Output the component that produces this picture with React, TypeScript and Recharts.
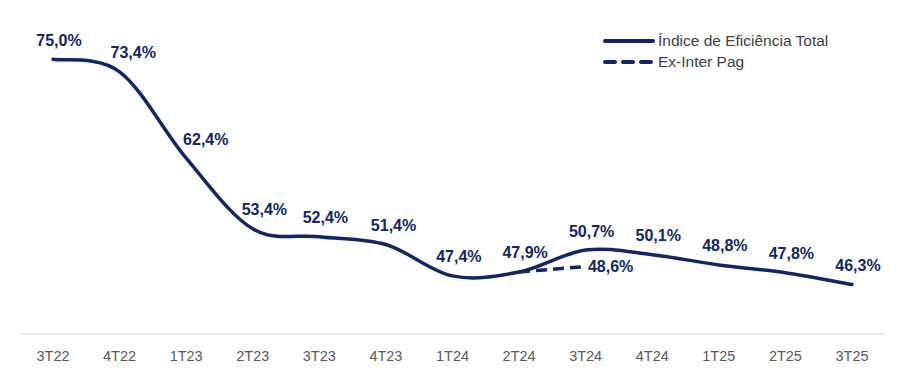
import React from 'react';
import { LineChart, Line, XAxis, YAxis, Legend, LabelList } from 'recharts';

const categories = ['3T22', '4T22', '1T23', '2T23', '3T23', '4T23', '1T24', '2T24', '3T24', '4T24', '1T25', '2T25', '3T25'];
const eficienciaTotal = [75.0, 73.4, 62.4, 53.4, 52.4, 51.4, 47.4, 47.9, 50.7, 50.1, 48.8, 47.8, 46.3];
const exInterPag: (number | null)[] = [null, null, null, null, null, null, null, 47.9, 48.6, null, null, null, null];
const seriesNames = ['Índice de Eficiência Total', 'Ex-Inter Pag'];

const data = categories.map((cat, i) => ({
  cat,
  total: eficienciaTotal[i],
  exInter: exInterPag[i],
}));

const NAVY = '#0f2766';
const LABEL_FONT = '"Liberation Sans", Arial, sans-serif';

const fmt = (v: number) => v.toFixed(1).replace('.', ',') + '%';

// Catmull-Rom style smoothing (similar to spreadsheet "smoothed line")
const smoothCurve = (context: any) => {
  let pts: [number, number][] = [];
  const draw = () => {
    const n = pts.length;
    if (!n) return;
    context.moveTo(pts[0][0], pts[0][1]);
    if (n === 1) return;
    for (let i = 0; i < n - 1; i++) {
      const p0 = pts[i === 0 ? 0 : i - 1];
      const p1 = pts[i];
      const p2 = pts[i + 1];
      const p3 = pts[i + 2 < n ? i + 2 : n - 1];
      const c1x = p1[0] + (p2[0] - p0[0]) / 6;
      const c1y = p1[1] + (p2[1] - p0[1]) / 6;
      const c2x = p2[0] - (p3[0] - p1[0]) / 6;
      const c2y = p2[1] - (p3[1] - p1[1]) / 6;
      context.bezierCurveTo(c1x, c1y, c2x, c2y, p2[0], p2[1]);
    }
  };
  return {
    areaStart() {},
    areaEnd() {},
    lineStart() {
      pts = [];
    },
    lineEnd() {
      draw();
    },
    point(x: number, y: number) {
      pts.push([+x, +y]);
    },
  };
};

const TotalLabel = (props: any) => {
  const { x, y, value, index } = props;
  if (value == null) return null;
  // push labels to the right where the line falls steeply, so they clear the line
  const prev = eficienciaTotal[Math.max(0, index - 1)];
  const next = eficienciaTotal[Math.min(eficienciaTotal.length - 1, index + 1)];
  const drop = Math.max(0, prev - next - 3);
  return (
    <text
      x={x + 6 + drop * 0.8}
      y={y - 19}
      textAnchor="middle"
      dominantBaseline="central"
      fontFamily={LABEL_FONT}
      fontWeight="bold"
      fontSize={16}
      fill={NAVY}
    >
      {fmt(value)}
    </text>
  );
};

const ExInterLabel = (props: any) => {
  const { x, y, value, index } = props;
  if (value == null || index !== 8) return null;
  return (
    <text
      x={x + 25}
      y={y}
      textAnchor="middle"
      dominantBaseline="central"
      fontFamily={LABEL_FONT}
      fontWeight="bold"
      fontSize={16}
      fill={NAVY}
    >
      {fmt(value)}
    </text>
  );
};

const renderLegend = () => (
  <div style={{ fontFamily: LABEL_FONT, fontSize: 15.5, color: '#404040', lineHeight: '21px' }}>
    <div style={{ display: 'flex', alignItems: 'center', height: 21 }}>
      <svg width={54} height={8}>
        <line x1={3} y1={4} x2={51} y2={4} stroke={NAVY} strokeWidth={4} strokeLinecap="round" />
      </svg>
      <span style={{ marginLeft: 2 }}>{seriesNames[0]}</span>
    </div>
    <div style={{ display: 'flex', alignItems: 'center', height: 21 }}>
      <svg width={54} height={8}>
        <line x1={3} y1={4} x2={51} y2={4} stroke={NAVY} strokeWidth={4} strokeLinecap="round" strokeDasharray="10 8" />
      </svg>
      <span style={{ marginLeft: 2 }}>{seriesNames[1]}</span>
    </div>
  </div>
);

export default function App() {
  return (
    <div style={{ position: 'absolute', left: 0, top: 0, width: 921, height: 385, background: '#fff' }}>
      <LineChart width={921} height={385} data={data} margin={{ top: 20, right: 36, left: 20, bottom: 21 }}>
        <XAxis
          dataKey="cat"
          axisLine={{ stroke: '#d9d9d9', strokeWidth: 1 }}
          tickLine={false}
          tickMargin={11}
          padding={{ left: 33, right: 33 }}
          tick={{ fill: '#595959', fontSize: 14.5, fontFamily: LABEL_FONT }}
          interval={0}
        />
        <YAxis hide domain={[40, 80]} />
        <Legend
          layout="vertical"
          align="center"
          verticalAlign="middle"
          content={renderLegend}
          wrapperStyle={{ position: 'absolute', top: 30, left: 602, width: 280 }}
        />
        <Line
          type={smoothCurve as any}
          dataKey="total"
          name={seriesNames[0]}
          stroke={NAVY}
          strokeWidth={3.5}
          strokeLinecap="round"
          dot={false}
          activeDot={false}
          isAnimationActive={false}
        >
          <LabelList dataKey="total" content={TotalLabel} />
        </Line>
        <Line
          type="linear"
          dataKey="exInter"
          name={seriesNames[1]}
          stroke={NAVY}
          strokeWidth={3.5}
          strokeDasharray="11 6"
          dot={false}
          activeDot={false}
          connectNulls={false}
          isAnimationActive={false}
        >
          <LabelList dataKey="exInter" content={ExInterLabel} />
        </Line>
      </LineChart>
    </div>
  );
}
